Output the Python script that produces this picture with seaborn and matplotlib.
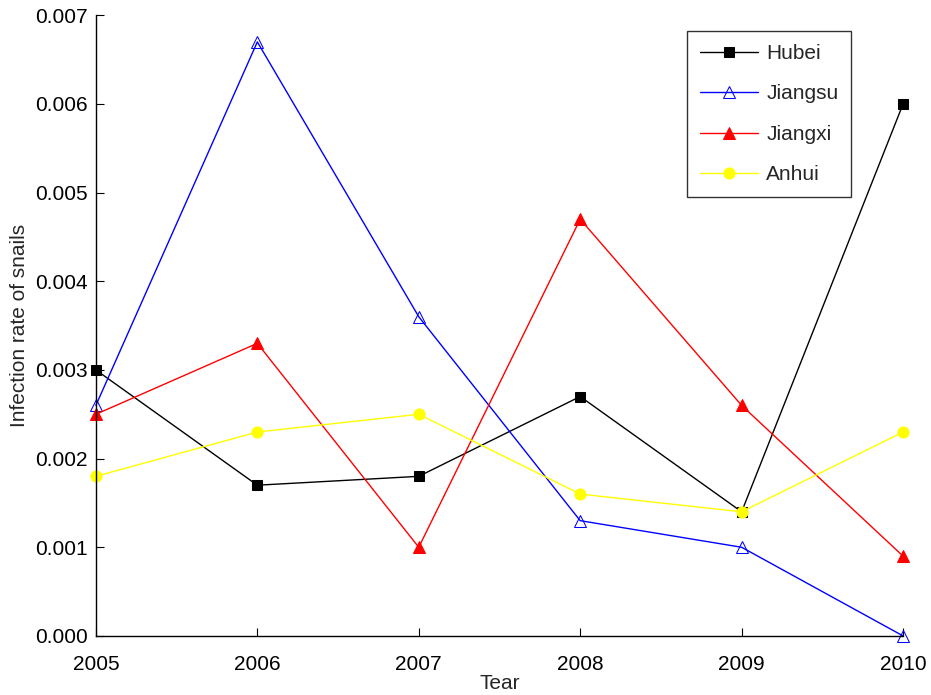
import matplotlib
matplotlib.use("Agg")
import matplotlib.pyplot as plt
import seaborn as sns
import pandas as pd
from matplotlib.ticker import FormatStrFormatter

years = [2005, 2006, 2007, 2008, 2009, 2010]
hubei = [0.0030, 0.0017, 0.0018, 0.0027, 0.0014, 0.0060]
jiangsu = [0.0026, 0.0067, 0.0036, 0.0013, 0.0010, 0.0000]
jiangxi = [0.0025, 0.0033, 0.0010, 0.0047, 0.0026, 0.0009]
anhui = [0.0018, 0.0023, 0.0025, 0.0016, 0.0014, 0.0023]

sns.set_style("ticks")
plt.rcParams['font.family'] = ['Liberation Sans', 'DejaVu Sans']

fig = plt.figure(figsize=(9.31, 6.95), dpi=100)
ax = fig.add_axes([0.103, 0.085, 0.867, 0.893])

styles = [
    ("Hubei", hubei, dict(color="black", marker="s", markersize=7, markerfacecolor="black", markeredgecolor="black")),
    ("Jiangsu", jiangsu, dict(color="blue", marker="^", markersize=9, markerfacecolor="none", markeredgecolor="blue")),
    ("Jiangxi", jiangxi, dict(color="red", marker="^", markersize=9, markerfacecolor="red", markeredgecolor="red")),
    ("Anhui", anhui, dict(color="yellow", marker="o", markersize=8, markerfacecolor="yellow", markeredgecolor="yellow")),
]
for name, vals, kw in styles:
    df = pd.DataFrame({"Year": years, "Rate": vals})
    sns.lineplot(data=df, x="Year", y="Rate", ax=ax, label=name, linewidth=1, clip_on=False, **kw)

ax.set_xlim(2005, 2010)
ax.set_ylim(0, 0.007)
ax.set_xticks(years)
ax.set_yticks([0, 0.001, 0.002, 0.003, 0.004, 0.005, 0.006, 0.007])
ax.yaxis.set_major_formatter(FormatStrFormatter('%.3f'))
ax.tick_params(direction='in', labelsize=15, length=6, width=0.8, colors='black')
ax.tick_params(axis='x', pad=14)
ax.tick_params(axis='y', pad=6)
sns.despine(ax=ax)
for s in ['left', 'bottom']:
    ax.spines[s].set_linewidth(1)
    ax.spines[s].set_color('black')
ax.set_xlabel("Tear", fontsize=15, labelpad=0)
ax.set_ylabel("Infection rate of snails", fontsize=15, labelpad=4)

leg = ax.legend(loc='upper right', bbox_to_anchor=(0.9355, 0.974), borderaxespad=0, fontsize=15,
                frameon=True, fancybox=False, edgecolor='black', handlelength=2.8, borderpad=0.6,
                labelspacing=1.03, handletextpad=0.4)
leg.get_frame().set_linewidth(1)

fig.savefig("out.png", dpi=100)
